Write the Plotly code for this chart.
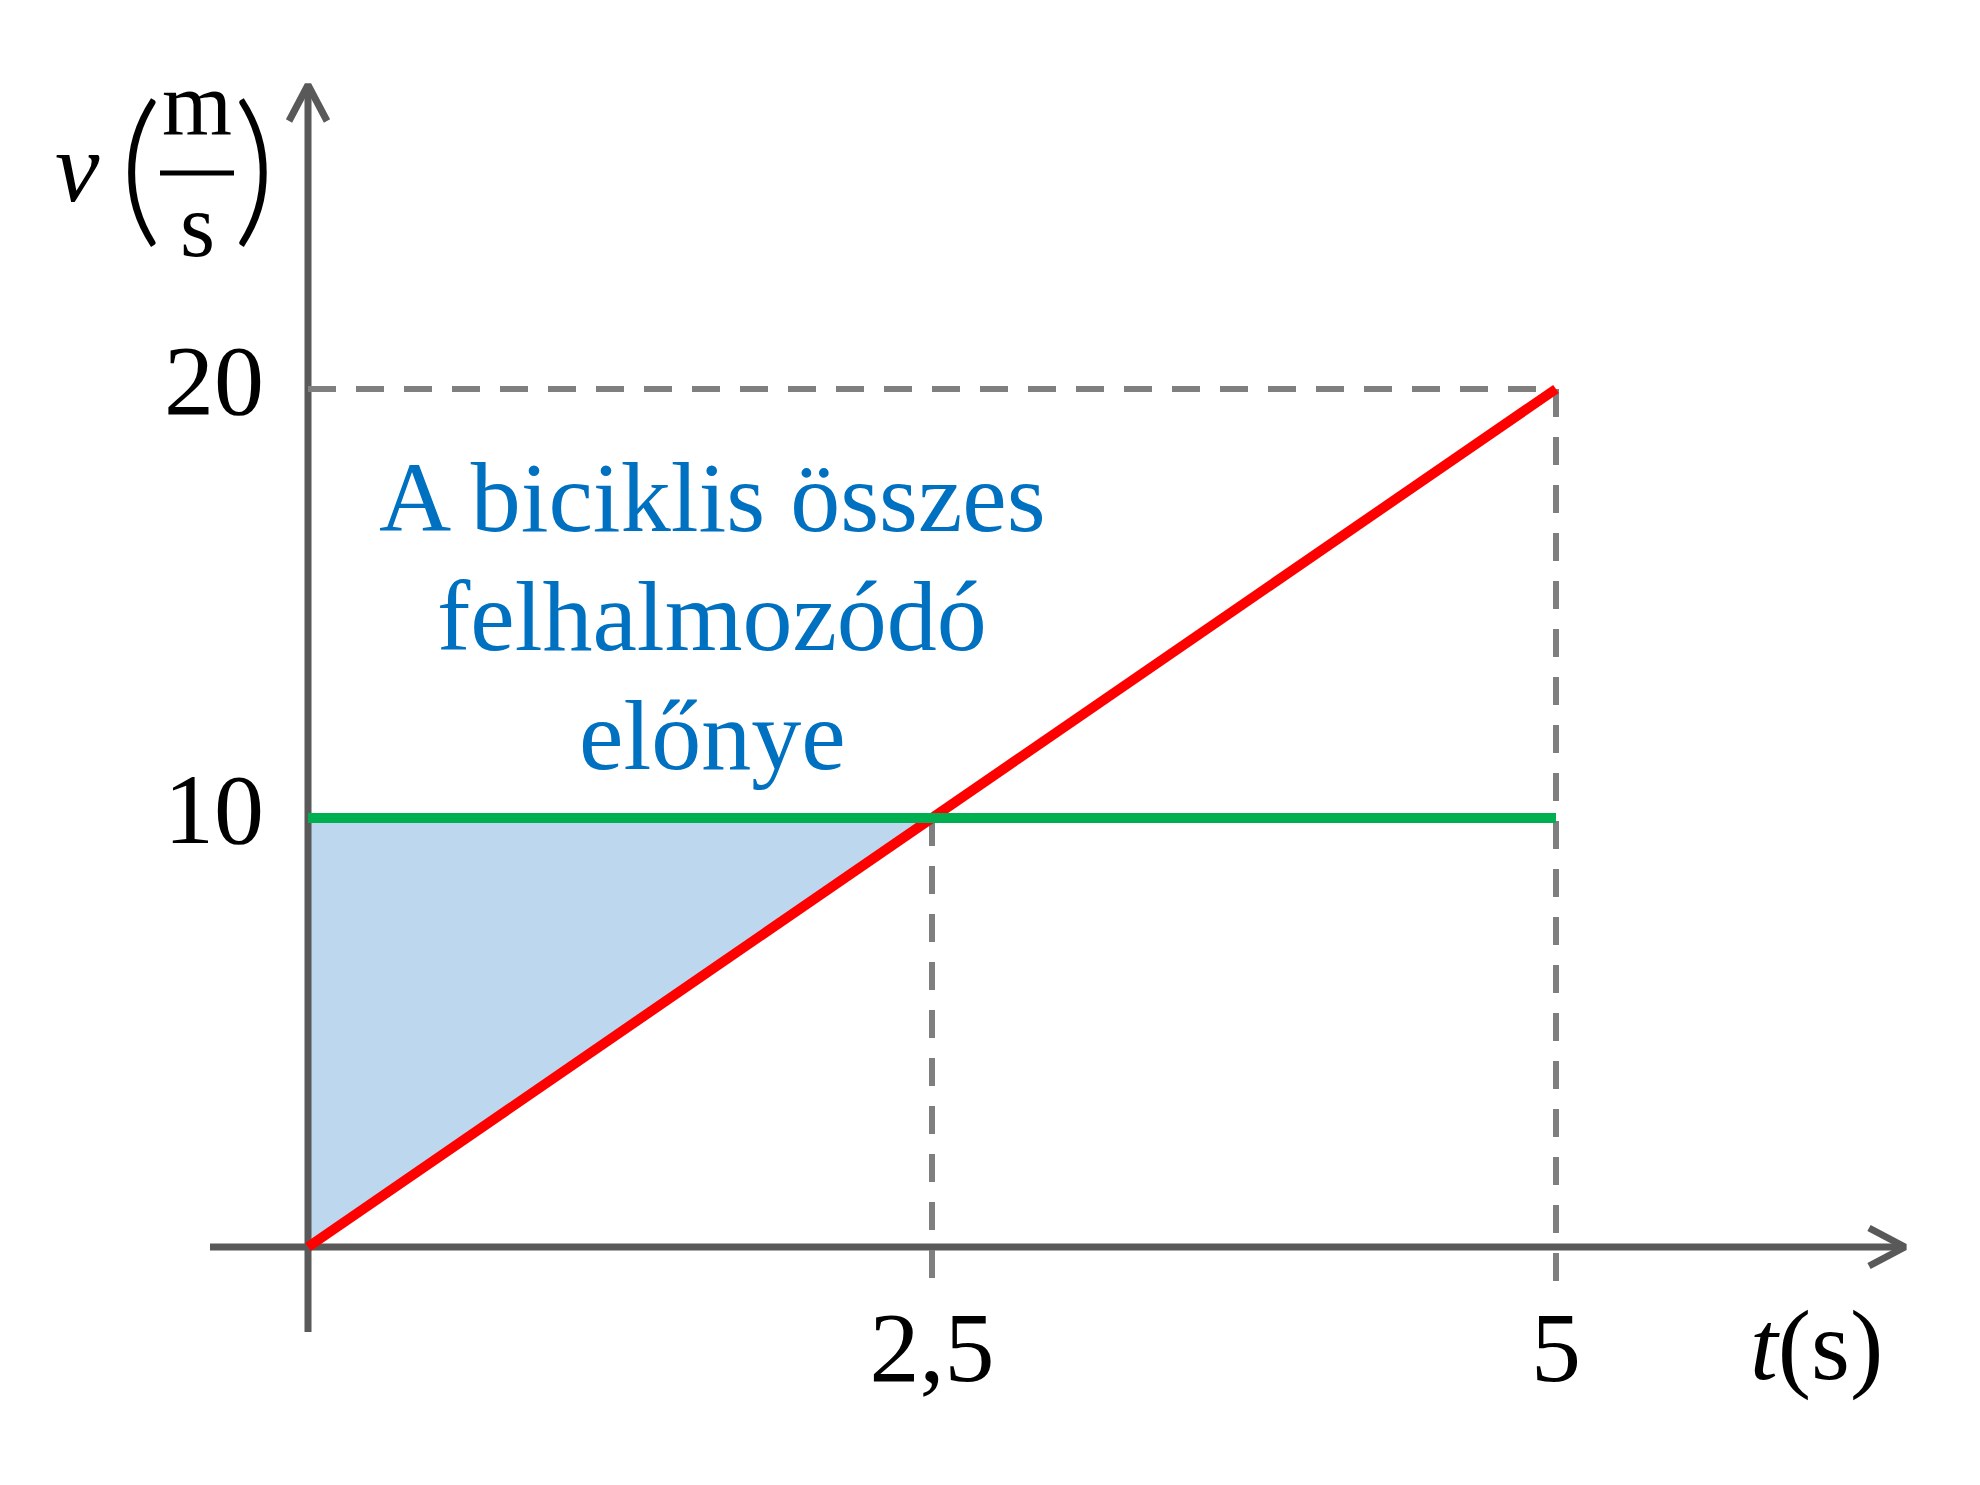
import plotly.graph_objects as go

# chart values
t_red = [0, 2.5, 5]
v_red = [0, 10, 20]
t_green = [0, 5]
v_green = [10, 10]
t_area = [0, 0, 2.5]
v_area = [0, 10, 10]
x_ticks = [2.5, 5]
x_ticklabels = ["2,5", "5"]
y_ticks = [10, 20]
y_ticklabels = ["10", "20"]
t_meet, v_meet = 2.5, 10
t_end, v_end = 5, 20
note_lines = ["A biciklis összes", "felhalmozódó", "előnye"]

# canvas / scale (pixels per unit)
W, H = 1980, 1485
ox, oy = 308, 1247          # pixel position of origin
sx, sy = 249.6, 42.9
x_range = [-ox / sx, (W - ox) / sx]
y_range = [-(H - oy) / sy, oy / sy]

AXIS = "#595959"
DASH = "#7f7f7f"
FONT = "Liberation Serif"

# axis extents
x_ax = [-98 / sx, 1597 / sx]
y_ax = [-85 / sy, 1162 / sy]
ah_len, ah_w = 36, 19

fig = go.Figure()

# shaded advantage area
fig.add_trace(go.Scatter(x=t_area, y=v_area, fill="toself", fillcolor="#bdd7ee",
                         mode="lines", line=dict(width=0), hoverinfo="skip"))

# axes with open arrow heads
fig.add_trace(go.Scatter(x=x_ax, y=[0, 0], mode="lines", line=dict(color=AXIS, width=7)))
fig.add_trace(go.Scatter(x=[0, 0], y=y_ax, mode="lines", line=dict(color=AXIS, width=7)))
fig.add_trace(go.Scatter(
    x=[x_ax[1] - ah_len / sx, x_ax[1], x_ax[1] - ah_len / sx],
    y=[ah_w / sy, 0, -ah_w / sy], mode="lines", line=dict(color=AXIS, width=7)))
fig.add_trace(go.Scatter(
    x=[-ah_w / sx, 0, ah_w / sx],
    y=[y_ax[1] - ah_len / sy, y_ax[1], y_ax[1] - ah_len / sy],
    mode="lines", line=dict(color=AXIS, width=7)))

# guide lines
dash = "28px,20px"
fig.add_trace(go.Scatter(x=[0, t_end], y=[v_end, v_end], mode="lines",
                         line=dict(color=DASH, width=6, dash=dash)))
fig.add_trace(go.Scatter(x=[t_end, t_end], y=[v_end, -39 / sy], mode="lines",
                         line=dict(color=DASH, width=6, dash=dash)))
fig.add_trace(go.Scatter(x=[t_meet, t_meet], y=[v_meet, -33 / sy], mode="lines",
                         line=dict(color=DASH, width=6, dash=dash)))

# motion lines
fig.add_trace(go.Scatter(x=t_red, y=v_red, mode="lines", line=dict(color="#ff0000", width=10)))
fig.add_trace(go.Scatter(x=t_green, y=v_green, mode="lines", line=dict(color="#00b050", width=10)))

# tick labels
fig.add_trace(go.Scatter(x=x_ticks, y=[-109 / sy] * 2, text=x_ticklabels, mode="text",
                         textfont=dict(family=FONT, size=100, color="black")))
fig.add_trace(go.Scatter(x=[-44 / sx] * 2, y=y_ticks, text=y_ticklabels, mode="text",
                         textposition="middle left",
                         textfont=dict(family=FONT, size=100, color="black")))

ann = []
# x axis title
ann.append(dict(x=1508 / sx, y=-98 / sy, text="<i>t</i>(s)", showarrow=False,
                font=dict(family=FONT, size=100, color="black")))
# y axis title v (m/s)
ann.append(dict(x=-231 / sx, y=1080 / sy, text="<i>v</i>", showarrow=False,
                font=dict(family=FONT, size=100, color="black")))
ann.append(dict(x=-168 / sx, y=1087 / sy, text="(", showarrow=False,
                font=dict(family="Lato", size=166, color="black", weight=300)))
ann.append(dict(x=-54 / sx, y=1087 / sy, text=")", showarrow=False,
                font=dict(family="Lato", size=166, color="black", weight=300)))
ann.append(dict(x=-111 / sx, y=1143 / sy, text="m", showarrow=False,
                font=dict(family=FONT, size=90, color="black")))
ann.append(dict(x=-111 / sx, y=1022 / sy, text="s", showarrow=False,
                font=dict(family=FONT, size=90, color="black")))
# note text
for i, line in enumerate(note_lines):
    ann.append(dict(x=404 / sx, y=(750 - 119 * i) / sy, text=line, showarrow=False,
                    font=dict(family=FONT, size=100, color="#0070c0")))

fig.add_shape(type="line", x0=-148 / sx, x1=-74 / sx, y0=1074 / sy, y1=1074 / sy,
              line=dict(color="black", width=5))

fig.update_layout(
    width=W, height=H, margin=dict(l=0, r=0, t=0, b=0),
    plot_bgcolor="white", paper_bgcolor="white", showlegend=False,
    xaxis=dict(range=x_range, visible=False, fixedrange=True),
    yaxis=dict(range=y_range, visible=False, fixedrange=True),
    annotations=ann,
)

fig.write_html("out.html", config={"displayModeBar": False},
               post_script="document.body.style.margin='0';")
